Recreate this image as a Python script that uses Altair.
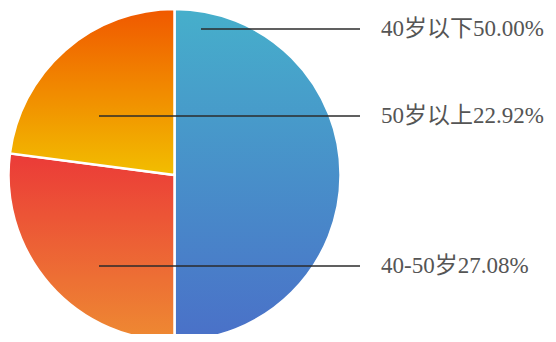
import altair as alt
import pandas as pd

# ---- data ----
categories = ["40岁以下", "40-50岁", "50岁以上"]
shares = [50.00, 27.08, 22.92]

# gradient colours per slice (top -> bottom)
grad_top = ["#46AFCB", "#EB3A38", "#F05800"]
grad_bottom = ["#4A70C8", "#EE8A32", "#F2BE00"]

# ---- layout (pixels, chart coordinates) ----
W, H = 540, 326
CX, CY, R = 166.5, 167, 166
line_x_start = [193, 91, 91]
line_y = [21, 258, 108]
line_x_end = 352
text_x = 373

df = pd.DataFrame({"category": categories, "share": shares})
df["order"] = range(len(df))

base = alt.Chart(df).transform_window(
    cum="sum(share)", sort=[alt.SortField("order")]
).transform_joinaggregate(
    total="sum(share)"
).transform_calculate(
    start="(datum.cum - datum.share) / datum.total * 2 * PI",
    end="datum.cum / datum.total * 2 * PI",
)

layers = []
for i, cat in enumerate(categories):
    grad = alt.Gradient(
        gradient="linear",
        stops=[
            alt.GradientStop(color=grad_top[i], offset=0),
            alt.GradientStop(color=grad_bottom[i], offset=1),
        ],
        x1=0, x2=0, y1=0, y2=1,
    )
    arc = base.transform_filter(alt.datum.category == cat).mark_arc(
        fill=grad, stroke="white", strokeWidth=2.5
    ).encode(
        theta=alt.Theta("start:Q", scale=None),
        theta2="end:Q",
        x=alt.value(CX),
        y=alt.value(CY),
        radius=alt.value(R),
    )
    layers.append(arc)

lab = pd.DataFrame({
    "label": [f"{c}{v:.2f}%" for c, v in zip(categories, shares)],
    "x0": line_x_start,
    "ly": line_y,
})

rules = alt.Chart(lab).mark_rule(color="#2b2b2b", strokeWidth=1.3).encode(
    x=alt.X("x0:Q", scale=None),
    x2=alt.value(line_x_end),
    y=alt.Y("ly:Q", scale=None),
)

texts = alt.Chart(lab).mark_text(
    align="left", baseline="middle", fontSize=23,
    font="'Liberation Serif', 'DejaVu Serif', 'Noto Sans CJK SC', serif",
    color="#555555",
).encode(
    x=alt.value(text_x),
    y=alt.Y("ly:Q", scale=None),
    text="label:N",
)

chart = alt.layer(*layers, rules, texts).properties(
    width=W, height=H, padding=0, autosize=alt.AutoSizeParams(type="none")
).configure_view(stroke=None)

chart.save("out.html", embed_options={"renderer": "svg", "actions": False})
